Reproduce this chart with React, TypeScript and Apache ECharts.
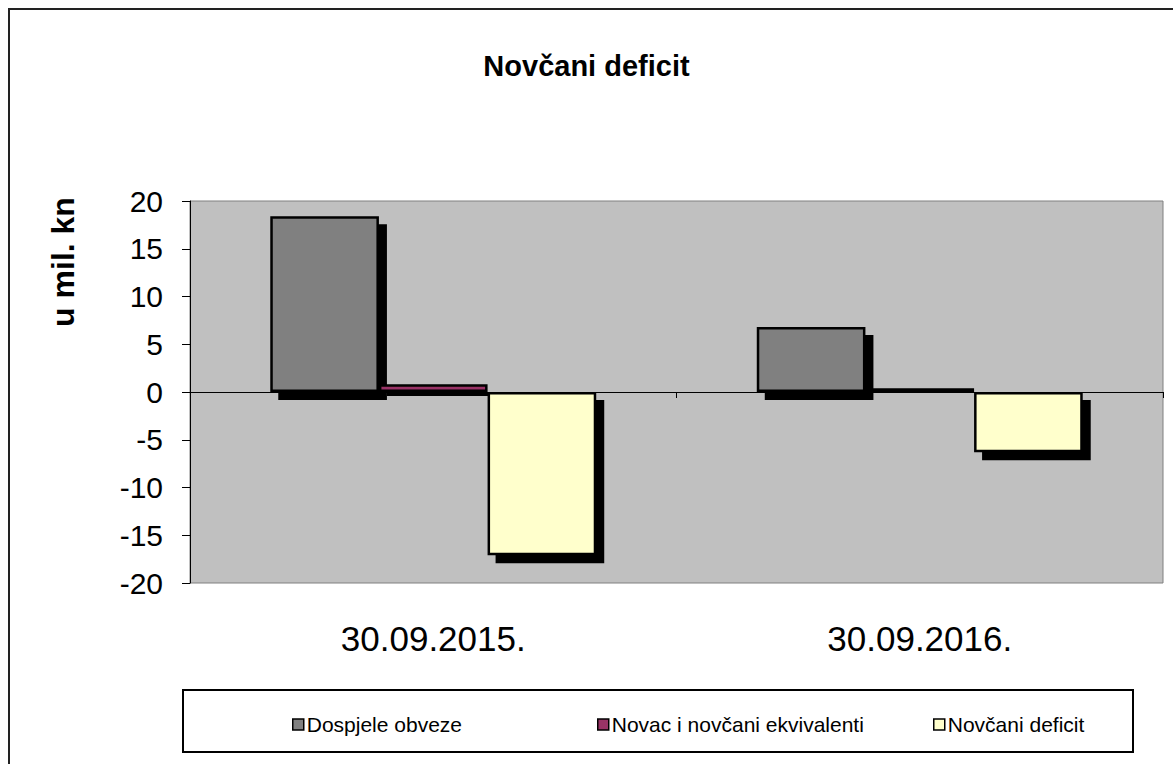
import React, { useEffect, useRef } from "react";
import * as echarts from "echarts";

const categories = ["30.09.2015.", "30.09.2016."];
const seriesNames = ["Dospjele obveze", "Novac i novčani ekvivalenti", "Novčani deficit"];
const dospjele = [18.4, 6.8];
const novac = [0.8, 0.4];
const deficit = [-17.1, -6.3];
const seriesColors = ["#808080", "#993366", "#FFFFCC"];
const yMin = -20;
const yMax = 20;
const yInterval = 5;
const legendLefts = [287, 592, 928];

const FONT = "'Liberation Sans', Arial, sans-serif";

export default function App() {
  const ref = useRef<HTMLDivElement>(null);
  useEffect(() => {
    if (!ref.current) return;
    const chart = echarts.init(ref.current, undefined, { renderer: "svg" });
    const values = [dospjele, novac, deficit];
    const series = seriesNames.map((name, i) => ({
      name,
      type: "bar",
      xAxisIndex: 0,
      data: values[i],
      barGap: "0%",
      barCategoryGap: "33%",
      itemStyle: {
        color: seriesColors[i],
        borderColor: "#000",
        borderWidth: 2.5,
        shadowColor: "#000",
        shadowBlur: 0.5,
        shadowOffsetX: 8,
        shadowOffsetY: 8,
      },
    }));
    const legends = seriesNames.map((name, i) => ({
      show: true,
      left: legendLefts[i],
      top: 709,
      icon: "rect",
      itemWidth: 11,
      itemHeight: 11,
      itemGap: 4,
      data: [name],
      itemStyle: {
        borderColor: "#000",
        borderWidth: 1.5,
        shadowBlur: 0,
        shadowOffsetX: 0,
        shadowOffsetY: 0,
        shadowColor: "transparent",
      },
      textStyle: { fontSize: 21, color: "#000", fontFamily: FONT, padding: [0, 0, 0, -2] },
    }));
    chart.setOption({
      animation: false,
      backgroundColor: "#fff",
      textStyle: { fontFamily: FONT },
      title: {
        text: "Novčani deficit",
        left: "center",
        top: 46,
        textStyle: { fontSize: 29, fontWeight: "bold", color: "#000", fontFamily: FONT },
      },
      legend: legends,
      grid: {
        left: 190,
        top: 201,
        width: 973,
        height: 382,
        show: true,
        backgroundColor: "#C0C0C0",
        borderColor: "#808080",
        borderWidth: 1,
        containLabel: false,
      },
      xAxis: [
        {
          type: "category",
          data: categories,
          position: "bottom",
          axisLine: { show: false, onZero: false },
          axisTick: { show: false },
          axisLabel: { fontSize: 35, color: "#000", margin: 38, fontFamily: FONT },
        },
        {
          type: "category",
          data: categories,
          position: "bottom",
          axisLine: { show: true, onZero: true, lineStyle: { color: "#000", width: 1 } },
          axisTick: { show: true, length: 6, lineStyle: { color: "#000" } },
          axisLabel: { show: false },
        },
      ],
      yAxis: {
        type: "value",
        min: yMin,
        max: yMax,
        interval: yInterval,
        axisLine: { show: true, lineStyle: { color: "#000", width: 1 } },
        axisTick: { show: true, length: 8, lineStyle: { color: "#000" } },
        axisLabel: { fontSize: 30, color: "#000", margin: 27, fontFamily: FONT },
        splitLine: { show: false },
      },
      graphic: [
        {
          type: "rect",
          shape: { x: 9, y: 9, width: 1200, height: 800 },
          style: { fill: "none", stroke: "#222", lineWidth: 2 },
          silent: true,
          z: -10,
        },
        {
          type: "rect",
          shape: { x: 183, y: 690, width: 950, height: 62 },
          style: { fill: "none", stroke: "#000", lineWidth: 2 },
          silent: true,
        },
        {
          type: "text",
          x: 63,
          y: 262,
          rotation: Math.PI / 2,
          style: {
            text: "u mil. kn",
            fontSize: 32,
            fontWeight: "bold",
            fill: "#000",
            fontFamily: FONT,
            align: "center",
            verticalAlign: "middle",
          },
        },
      ],
      series,
    });
    return () => chart.dispose();
  }, []);
  return (
    <div
      ref={ref}
      style={{ position: "absolute", left: 0, top: 0, width: 1173, height: 764 }}
    />
  );
}
